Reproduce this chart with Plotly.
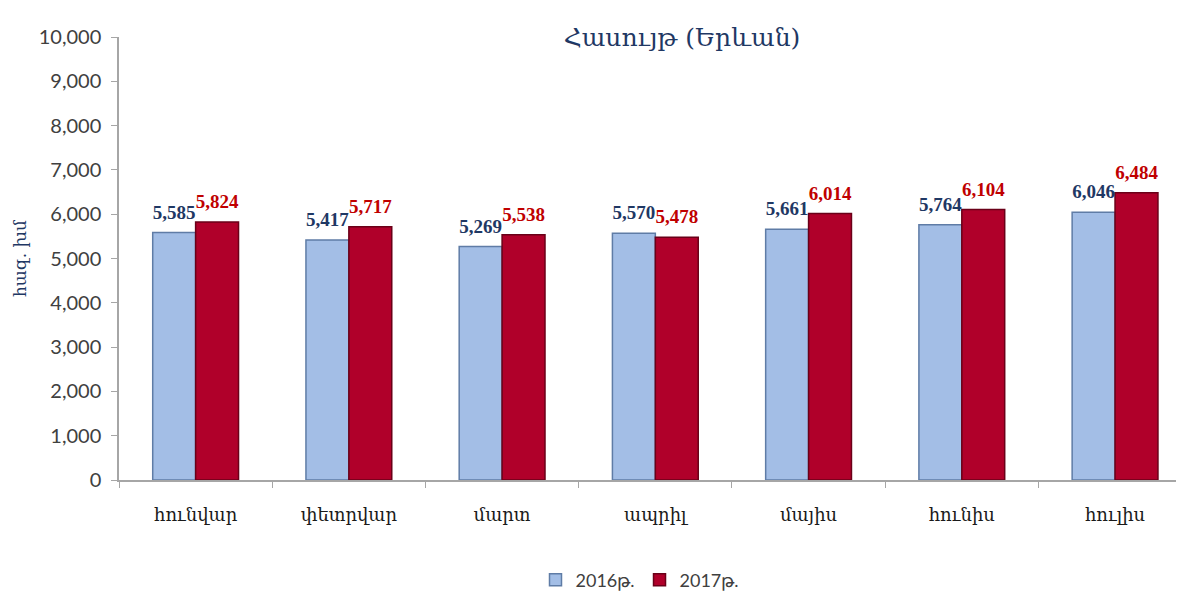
import plotly.graph_objects as go

months = ["հունվար", "փետրվար", "մարտ", "ապրիլ", "մայիս", "հունիս", "հուլիս"]
values_2016 = [5585, 5417, 5269, 5570, 5661, 5764, 6046]
values_2017 = [5824, 5717, 5538, 5478, 6014, 6104, 6484]
series_names = ["2016թ.", "2017թ."]
title_text = "Հասույթ (Երևան)"
y_title = "հազ. խմ"

# page body adds an 8px offset; compensate
OFF = 8
L, T, B, R = 119 - OFF, 37 - OFF, 480 - OFF, 1184 - OFF
H = B - T
W = R - L

series = [
    (series_names[0], values_2016, "#A3BEE6", "#5F7CA6", "#1F3864", "g1"),
    (series_names[1], values_2017, "#B0002A", "#6A0018", "#C00000", "g2"),
]

fig = go.Figure()
for name, vals, fill, edge, tcol, grp in series:
    fig.add_trace(go.Bar(
        x=months, y=vals, name=name, offsetgroup=grp,
        marker=dict(color=fill, line=dict(color=edge, width=1.5)),
    ))
for name, vals, fill, edge, tcol, grp in series:
    fig.add_trace(go.Scatter(
        x=months, y=vals, mode="markers+text", offsetgroup=grp,
        text=[f"{v:,}" for v in vals], textposition="top center",
        textfont=dict(family="Liberation Serif", size=19, color=tcol, weight="bold"),
        marker=dict(size=13, opacity=0), showlegend=False, hoverinfo="skip",
        cliponaxis=False,
    ))

fig.update_layout(
    width=1184, height=594,
    margin=dict(l=L, r=1184 - R, t=T, b=594 - B, autoexpand=False),
    paper_bgcolor="white", plot_bgcolor="white",
    barmode="group", bargap=0.44, bargroupgap=0,
    scattermode="group", scattergap=0.44,
    title=dict(text=title_text, x=(682 - OFF) / 1184, xanchor="center",
               y=1 - (37 - OFF) / 594, yanchor="middle",
               font=dict(family="DejaVu Serif", size=25, color="#1F3864")),
    showlegend=True,
    legend=dict(orientation="h", x=(640 - OFF - L) / W, xanchor="center",
                y=(B - (580 - OFF)) / H, yanchor="middle",
                font=dict(family="Lato", size=18, color="#404040"),
                itemwidth=30, traceorder="normal"),
)
fig.update_xaxes(
    range=[-0.5, 6.45], automargin=False,
    showline=True, linecolor="#A6A6A6", linewidth=1.5,
    ticks="outside", tickson="boundaries", ticklen=6, tickcolor="#A6A6A6",
    tickfont=dict(family="DejaVu Serif", size=18, color="#1a1a1a"),
    ticklabelstandoff=18,
    showgrid=False,
)
fig.update_yaxes(
    range=[0, 10000], dtick=1000, tickformat=",", automargin=False,
    showline=True, linecolor="#A6A6A6", linewidth=1.5,
    ticks="outside", ticklen=6, tickcolor="#A6A6A6",
    tickfont=dict(family="Lato", size=20, color="#404040"),
    ticklabelstandoff=6,
    showgrid=False, zeroline=False,
    title=dict(text=y_title, standoff=8,
               font=dict(family="DejaVu Serif", size=17, color="#1F3864")),
)
fig.write_html("out.html")
